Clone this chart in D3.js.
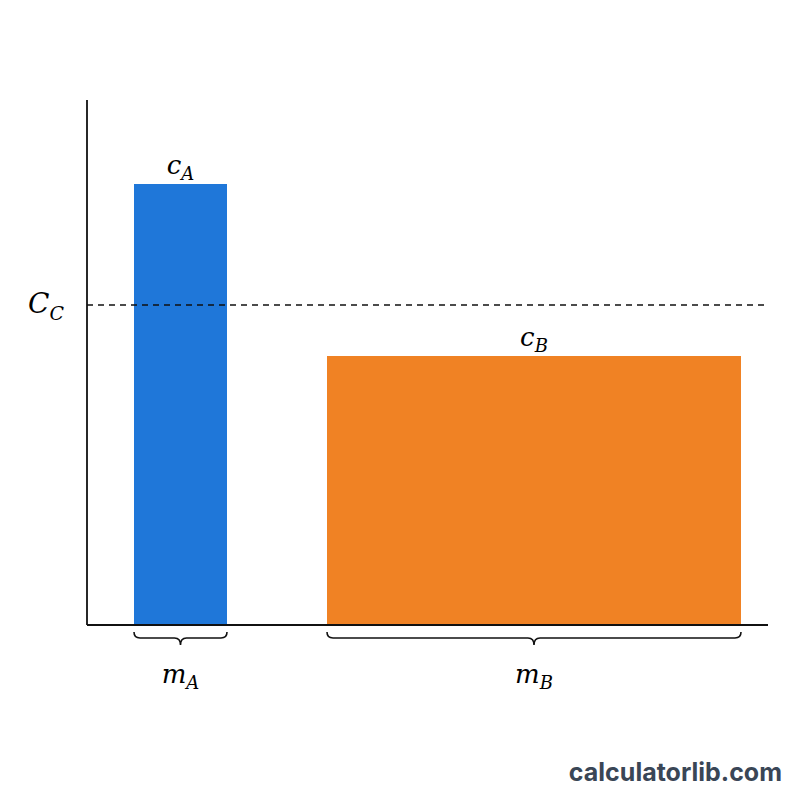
<!DOCTYPE html><html><head><meta charset="utf-8">
<script src="https://cdn.jsdelivr.net/npm/d3@7"></script>
<style>body{margin:0;background:#fff}</style></head><body>
<svg id="c" width="800" height="800"></svg>
<script>
const bars = ["A","B"];
const starts = [47, 240];
const widths = [93, 414];
const heights = [441, 269];
const colors = ["#1f77d9","#f08224"];
const mixHeight = 320;

const svg = d3.select("#c");
const x = d3.scaleLinear().domain([0,681]).range([87,768]);
const y = d3.scaleLinear().domain([0,525]).range([625,100]);
const font = "'DejaVu Serif','Liberation Serif',serif";

bars.forEach((b,i)=>{
  const x0=x(starts[i]), x1=x(starts[i]+widths[i]);
  svg.append("rect").attr("x",x0).attr("y",y(heights[i])).attr("width",x1-x0)
    .attr("height",y(0)-y(heights[i])).attr("fill",colors[i]);
  const t=svg.append("text").attr("x",(x0+x1)/2).attr("y",y(heights[i])-10)
    .attr("text-anchor","middle").attr("font-family",font).attr("font-style","italic").attr("font-size",26);
  t.append("tspan").text("c");
  t.append("tspan").attr("font-size",18).attr("dy",6).text(b);
  // brace
  const yb=632, h=13, m=(x0+x1)/2, r=6;
  svg.append("path").attr("fill","none").attr("stroke","#111").attr("stroke-width",1.6)
    .attr("d",`M${x0},${yb} Q${x0},${yb+r} ${x0+r},${yb+r} L${m-r},${yb+r} Q${m},${yb+r} ${m},${yb+h} Q${m},${yb+r} ${m+r},${yb+r} L${x1-r},${yb+r} Q${x1},${yb+r} ${x1},${yb}`);
  const t2=svg.append("text").attr("x",m).attr("y",683)
    .attr("text-anchor","middle").attr("font-family",font).attr("font-style","italic").attr("font-size",26);
  t2.append("tspan").text("m");
  t2.append("tspan").attr("font-size",18).attr("dy",6).text(b);
});

svg.append("line").attr("x1",x(0)).attr("x2",x(681)).attr("y1",y(mixHeight)).attr("y2",y(mixHeight))
  .attr("stroke","#111").attr("stroke-width",1.6).attr("stroke-dasharray","6,5");
const tc=svg.append("text").attr("x",28).attr("y",y(mixHeight)+8).attr("font-family",font).attr("font-style","italic").attr("font-size",28);
tc.append("tspan").text("C");
tc.append("tspan").attr("font-size",19).attr("dy",7).text("C");

svg.append("line").attr("x1",x(0)).attr("x2",x(0)).attr("y1",y(525)).attr("y2",y(0)).attr("stroke","#111").attr("stroke-width",1.8);
svg.append("line").attr("x1",x(0)).attr("x2",x(681)).attr("y1",y(0)).attr("y2",y(0)).attr("stroke","#111").attr("stroke-width",1.8);

svg.append("text").attr("x",782).attr("y",781).attr("text-anchor","end").attr("font-family","Inter,'Open Sans',sans-serif")
  .attr("font-weight",700).attr("font-size",25).attr("fill","#3a4656").text("calculatorlib.com");
</script></body></html>
